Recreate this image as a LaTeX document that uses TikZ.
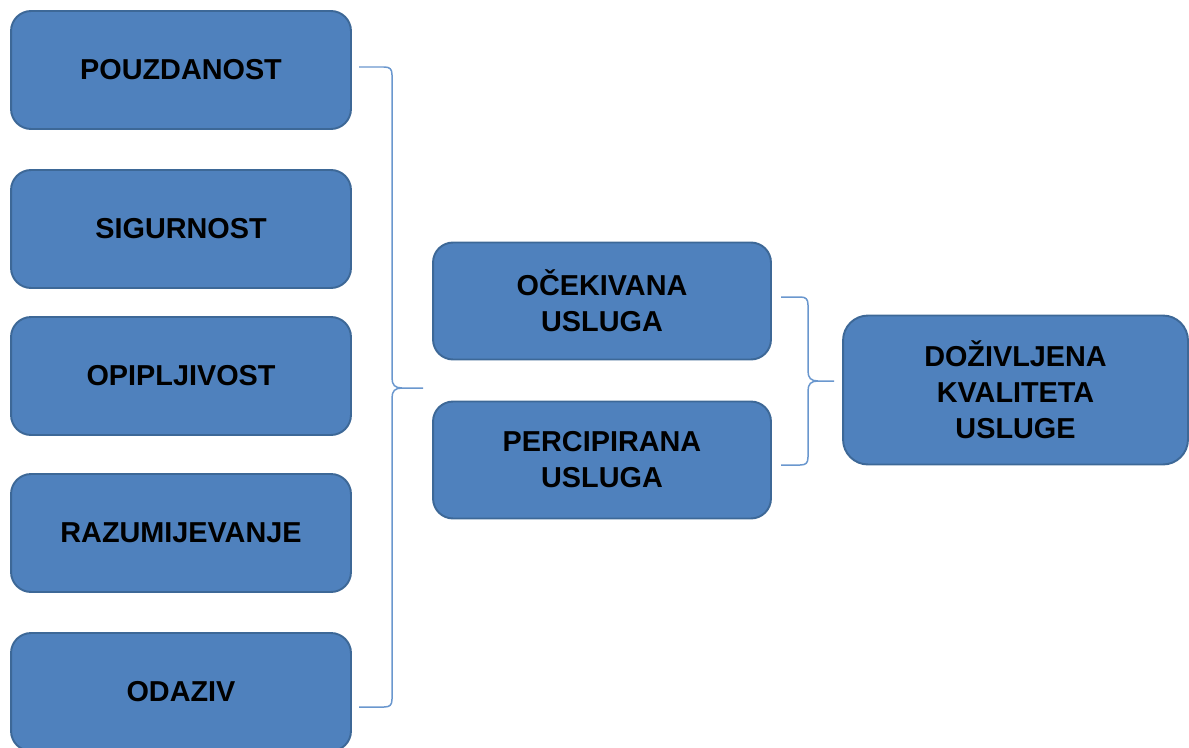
\documentclass[tikz,border=0pt]{standalone}
\usepackage{fontspec}
\setmainfont{Liberation Sans}
\usepackage{tikz}
\usetikzlibrary{calc,positioning}
\definecolor{boxblue}{HTML}{4F81BD}
\definecolor{boxedge}{HTML}{3D6897}
\definecolor{bracecol}{HTML}{6A97CE}
\tikzstyle{box}   =[rectangle, rounded corners=0.4cm, fill=boxblue,
                    draw=boxedge, line width=1.1pt, align=center,
                    font=\fontsize{16.4}{20.5}\selectfont\bfseries,
                    inner sep=0pt]
\tikzstyle{left}  =[box, minimum width=6.8cm, minimum height=2.36cm]
\tikzstyle{mid}   =[box, minimum width=6.76cm, minimum height=2.34cm]
\tikzstyle{brace} =[draw=bracecol, line width=0.85pt]

\begin{document}
\begin{tikzpicture}[x=0.02cm, y=-0.02cm]
            \useasboundingbox (0,0) rectangle (1189,747);
            \begin{scope}
                % left column
                \node (pou) [left] at (181,70) {POUZDANOST};
                \node (sig) [left] at (181,229) {SIGURNOST};
                \node (opi) [left] at (181,376) {OPIPLJIVOST};
                \node (raz) [left] at (181,533) {RAZUMIJEVANJE};
                \node (oda) [left] at (181,692) {ODAZIV};
                % middle column
                \node (oce) [mid] at (602,301) {OČEKIVANA\\USLUGA};
                \node (per) [mid] at (602,460) {PERCIPIRANA\\USLUGA};
                % right
                \node (dok) [box, rounded corners=0.5cm, minimum width=6.9cm,
                             minimum height=2.98cm] at (1015.5,390)
                             {DOŽIVLJENA\\KVALITETA\\USLUGE};
                % brace ends
                \coordinate (bt) at (359,67);
                \coordinate (bb) at (359,707);
                \coordinate (btip) at (423,388);
                \coordinate (mt) at (781,297);
                \coordinate (mb) at (781,465);
                \coordinate (mtip) at (834,381);
                \draw[brace] (bt) -- (384,67) .. controls (390,67) and (392,69) .. (392,75)
                    -- (392,378) .. controls (392,385) and (395,388) .. (402,388) -- (btip)
                    -- (402,388) .. controls (395,388) and (392,391) .. (392,398)
                    -- (392,699) .. controls (392,705) and (390,707) .. (384,707) -- (bb);
                \draw[brace] (mt) -- (800,297) .. controls (806,297) and (808,299) .. (808,305)
                    -- (808,371) .. controls (808,378) and (811,381) .. (818,381) -- (mtip)
                    -- (818,381) .. controls (811,381) and (808,384) .. (808,391)
                    -- (808,457) .. controls (808,463) and (806,465) .. (800,465) -- (mb);
            \end{scope}
        \end{tikzpicture}
\end{document}
